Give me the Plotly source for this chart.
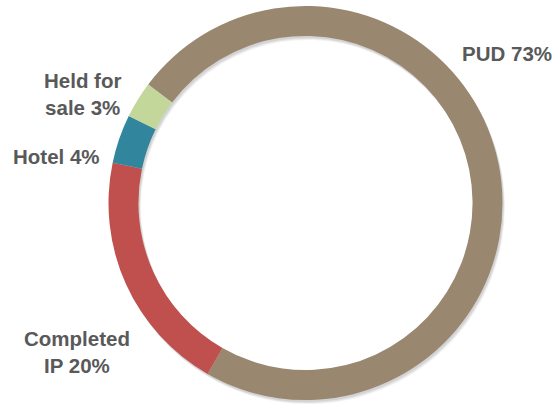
import plotly.graph_objects as go

categories = ["PUD", "Completed IP", "Hotel", "Held for sale"]
shares = [73, 20, 4, 3]
label_texts = ["PUD 73%", "Completed<br>IP 20%", "Hotel 4%", "Held for<br>sale 3%"]
colors = ["#9A8770", "#C0504D", "#31859C", "#C4D79B"]

W, H = 557, 406
cx, cy, diam = 305.5, 203, 394
HOLE = 0.848
ROT = -53


def dom(dx=0.0, dy=0.0, d=diam):
    return dict(x=[(cx + dx - d / 2) / W, (cx + dx + d / 2) / W],
                y=[1 - (cy + dy + d / 2) / H, 1 - (cy + dy - d / 2) / H])


fig = go.Figure()

# soft drop shadow (offset down-right)
for off, alpha in [(4, 0.05), (3, 0.06), (2, 0.07)]:
    fig.add_trace(go.Pie(
        labels=categories, values=shares, sort=False, direction="clockwise",
        rotation=ROT, hole=HOLE,
        marker=dict(colors=[f"rgba(0,0,0,{alpha})"] * len(shares), line=dict(width=0)),
        textinfo="none", hoverinfo="skip", showlegend=False,
        domain=dom(off * 0.6, off),
    ))

fig.add_trace(go.Pie(
    labels=categories,
    values=shares,
    sort=False,
    direction="clockwise",
    rotation=ROT,
    hole=HOLE,
    marker=dict(colors=colors, line=dict(width=0)),
    textinfo="none",
    hoverinfo="label+percent",
    showlegend=False,
    domain=dom(),
))

# label anchor points (pixels, centre of text block)
label_pos = [(507, 54), (77, 352), (56, 156), (83, 94)]
for txt, (px, py) in zip(label_texts, label_pos):
    fig.add_annotation(
        x=px / W, y=1 - py / H, xref="paper", yref="paper",
        text=f"<b>{txt}</b>", showarrow=False, align="center",
        xanchor="center", yanchor="middle",
        font=dict(family="Liberation Sans, Arial, sans-serif", size=20.5, color="#595959"),
    )

fig.update_layout(
    width=W, height=H,
    margin=dict(l=0, r=0, t=0, b=0),
    paper_bgcolor="white", plot_bgcolor="white",
)
fig.write_html("out.html")
